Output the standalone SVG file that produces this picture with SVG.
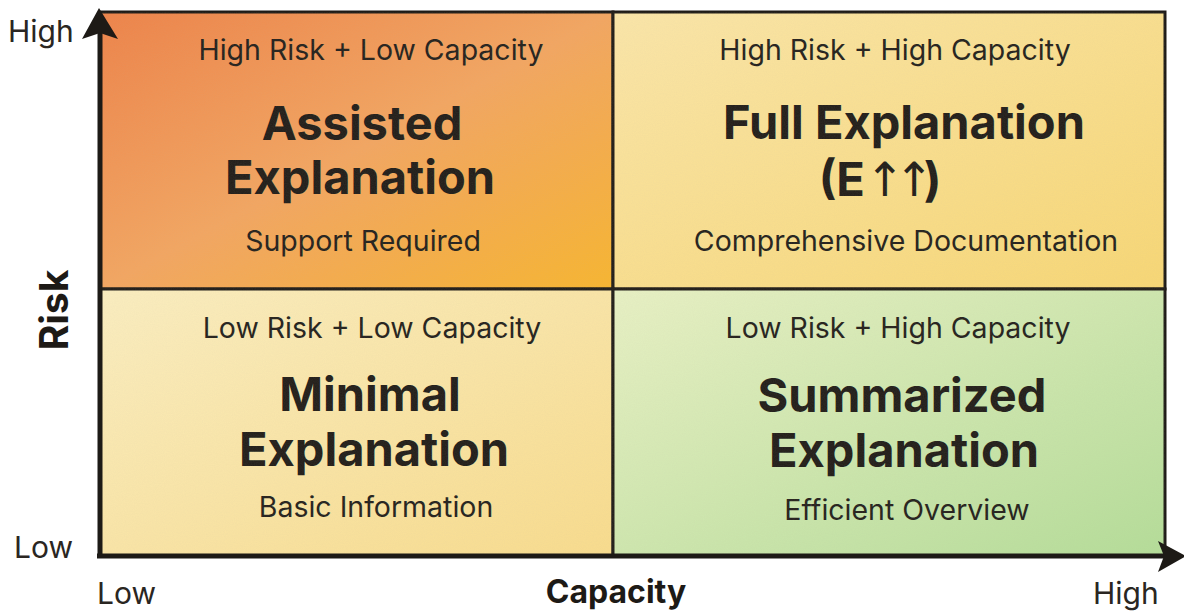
<svg xmlns="http://www.w3.org/2000/svg" width="1184" height="614" viewBox="0 0 1184 614">
  <defs>
    <linearGradient id="gTL" x1="0" y1="0" x2="1" y2="1">
      <stop offset="0" stop-color="#ee8248"/>
      <stop offset="0.5" stop-color="#f3a560"/>
      <stop offset="1" stop-color="#f8b52e"/>
    </linearGradient>
    <linearGradient id="gTR" x1="0" y1="0" x2="1" y2="1">
      <stop offset="0" stop-color="#fbe6a8"/>
      <stop offset="1" stop-color="#f8d774"/>
    </linearGradient>
    <linearGradient id="gBL" x1="0" y1="0" x2="1" y2="1">
      <stop offset="0" stop-color="#fbeec0"/>
      <stop offset="1" stop-color="#f9dc8c"/>
    </linearGradient>
    <linearGradient id="gBR" x1="0" y1="0" x2="1" y2="1">
      <stop offset="0" stop-color="#e8f1c4"/>
      <stop offset="1" stop-color="#b4dd98"/>
    </linearGradient>
    <filter id="grain" x="0" y="0" width="100%" height="100%">
      <feTurbulence type="fractalNoise" baseFrequency="0.9" numOctaves="2" seed="3"/>
      <feColorMatrix type="matrix" values="0 0 0 0 0.5  0 0 0 0 0.45  0 0 0 0 0.35  0 0 0 0.10 0"/>
    </filter>
    <style>
      .sub { font-family: Inter, "Noto Sans", "Liberation Sans", sans-serif; font-size: 28.5px; fill: #231f1b; text-anchor: middle; }
      .ttl { font-family: Inter, "Noto Sans", "Liberation Sans", sans-serif; font-size: 47px; font-weight: 700; fill: #201c18; text-anchor: middle; }
      .thin { font-weight: 400; font-family: "DejaVu Sans", sans-serif; letter-spacing: -10px; }
      .ax { font-family: Inter, "Noto Sans", "Liberation Sans", sans-serif; font-size: 30px; fill: #2a2622; }
      .axb { font-family: Inter, "Noto Sans", "Liberation Sans", sans-serif; font-size: 32px; font-weight: 700; fill: #1d1a16; text-anchor: middle; }
      .cell { stroke: #1e1b17; stroke-width: 3; }
    </style>
  </defs>

  <rect width="1184" height="614" fill="#ffffff"/>

  <!-- quadrant: high risk, low capacity -->
  <g id="assisted">
    <rect class="cell" x="100" y="12" width="513" height="277" fill="url(#gTL)"/>
    <text class="sub" x="371" y="60">High Risk + Low Capacity</text>
    <text class="ttl" x="362" y="140">Assisted</text>
    <text class="ttl" x="360" y="194">Explanation</text>
    <text class="sub" x="363" y="251">Support Required</text>
  </g>

  <!-- quadrant: high risk, high capacity -->
  <g id="full">
    <rect class="cell" x="613" y="12" width="552" height="277" fill="url(#gTR)"/>
    <text class="sub" x="895" y="60">High Risk + High Capacity</text>
    <text class="ttl" x="904" y="139">Full Explanation</text>
    <text class="ttl" x="880" y="196">(E<tspan class="thin">↑↑</tspan>)</text>
    <text class="sub" x="906" y="251">Comprehensive Documentation</text>
  </g>

  <!-- quadrant: low risk, low capacity -->
  <g id="minimal">
    <rect class="cell" x="100" y="289" width="513" height="267" fill="url(#gBL)"/>
    <text class="sub" x="372" y="338">Low Risk + Low Capacity</text>
    <text class="ttl" x="370" y="411">Minimal</text>
    <text class="ttl" x="374" y="466">Explanation</text>
    <text class="sub" x="376" y="517">Basic Information</text>
  </g>

  <!-- quadrant: low risk, high capacity -->
  <g id="summarized">
    <rect class="cell" x="613" y="289" width="552" height="267" fill="url(#gBR)"/>
    <text class="sub" x="898" y="338">Low Risk + High Capacity</text>
    <text class="ttl" x="902" y="412">Summarized</text>
    <text class="ttl" x="904" y="467">Explanation</text>
    <text class="sub" x="907" y="520">Efficient Overview</text>
  </g>

  <!-- paper grain over the grid -->
  <rect x="100" y="12" width="1065" height="544" filter="url(#grain)" pointer-events="none"/>

  <!-- axes -->
  <g id="axes" fill="none" stroke="#1d1a16">
    <line x1="100" y1="558" x2="100" y2="30" stroke-width="5"/>
    <path d="M99,8 L118,39 L100,33 L82,39 z" fill="#1d1a16" stroke="none"/>
    <line x1="97" y1="556" x2="1165" y2="556" stroke-width="5"/>
    <path d="M1186,556 L1158,541 L1164,556 L1158,572 z" fill="#1d1a16" stroke="none"/>
  </g>

  <!-- axis labels -->
  <g id="axis-labels">
    <text class="ax" x="8" y="42">High</text>
    <text class="ax" x="14" y="558">Low</text>
    <text class="ax" x="97" y="604">Low</text>
    <text class="ax" x="1093" y="604">High</text>
    <text class="axb" x="616" y="603">Capacity</text>
    <text class="axb" style="font-size:39px" transform="translate(68,310) rotate(-90)">Risk</text>
  </g>
</svg>
